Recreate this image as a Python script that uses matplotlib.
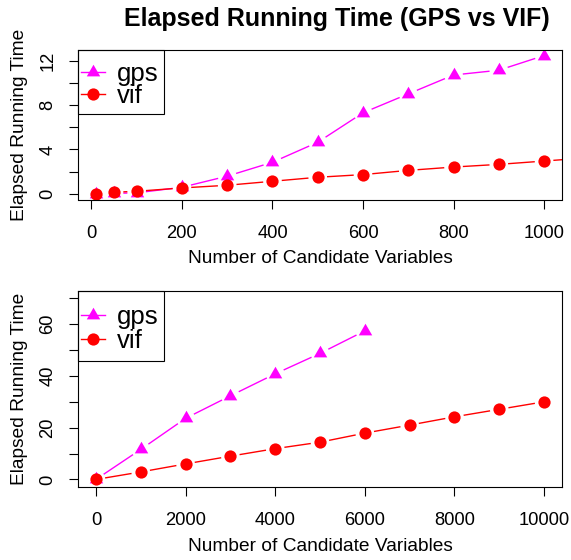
import numpy as np
import matplotlib
matplotlib.use("Agg")
import matplotlib.pyplot as plt
from matplotlib.lines import Line2D
from matplotlib.patches import Rectangle

plt.rcParams['font.family'] = ['Liberation Sans', 'DejaVu Sans']

# ---- data ----
x_small = [10, 50, 100, 200, 300, 400, 500, 600, 700, 800, 900, 1000]
gps_small = [0.02, 0.05, 0.1, 0.6, 1.6, 2.85, 4.65, 7.3, 9.0, 10.7, 11.13, 12.45]
vif_small = [0.02, 0.15, 0.24, 0.54, 0.78, 1.14, 1.5, 1.74, 2.12, 2.42, 2.66, 2.96]

x_large = [0, 1000, 2000, 3000, 4000, 5000, 6000, 7000, 8000, 9000, 10000]
gps_large = [0, 11.6, 23.6, 32.3, 40.8, 48.7, 57.4]
vif_large = [0, 2.9, 6.0, 9.0, 11.9, 14.4, 17.9, 21.0, 24.2, 27.1, 30.0]

series_names = ['gps', 'vif']
series_colors = ['#FF00FF', '#FF0000']

W, H = 571, 560
TRI = [(0, 1.555), (-1.347, -0.778), (1.347, -0.778)]  # R's pch 17 shape
MARKERS = [dict(marker=TRI, ms=11.2), dict(marker='o', ms=8.8)]


def fx(px):
    return px / W


def fy(py):
    return 1 - py / H


def gapped(ax, x, y, color, gap=10):
    # R type="b": line segments stop short of the points
    pts = ax.transData.transform(np.column_stack([x, y]))
    inv = ax.transData.inverted()
    for p0, p1 in zip(pts[:-1], pts[1:]):
        d = p1 - p0
        L = np.hypot(*d)
        if L <= 2 * gap:
            continue
        u = d / L
        a = inv.transform(p0 + u * gap)
        b = inv.transform(p1 - u * gap)
        ax.plot([a[0], b[0]], [a[1], b[1]], color=color, lw=1.0)


def panel(box, xlim, ylim, xticks, yticks, ylabels, series, xlab_base, legend):
    left, top, right, bottom = box
    ax = fig.add_axes([fx(left), fy(bottom), fx(right) - fx(left), (bottom - top) / H])
    ax.set_xlim(*xlim)
    ax.set_ylim(*ylim)
    for (x, y), c, m in zip(series, series_colors, MARKERS):
        gapped(ax, x, y, c)
        ax.plot(x, y, ls='none', color=c, mew=0, **m)
    ax.set_xticks(xticks)
    ax.set_yticks(yticks)
    ax.set_yticklabels(ylabels, rotation=90, va='center')
    ax.tick_params(length=6.5, width=0.8, labelsize=13.2, direction='out')
    ax.tick_params(axis='x', pad=12)
    ax.tick_params(axis='y', pad=9)
    for s in ax.spines.values():
        s.set_linewidth(0.8)
        s.set_color('black')
    ax.set_xlabel('Number of Candidate Variables', fontsize=13.8, va='baseline')
    ax.xaxis.set_label_coords(0.5, -(xlab_base - bottom) / (bottom - top))
    ax.set_ylabel('Elapsed Running Time', fontsize=13.8, va='baseline')
    ax.yaxis.set_label_coords((23.7 - left) / (right - left), 0.5)

    # legend box in the top-left corner, like R's legend("topleft")
    lh, r1, r2 = legend
    fig.add_artist(Rectangle((fx(left), fy(top + lh)), fx(164) - fx(left), lh / H,
                             transform=fig.transFigure, fill=False, ec='black', lw=0.8))
    for name, c, m, ry in zip(series_names, series_colors, MARKERS, [r1, r2]):
        fig.add_artist(Line2D([fx(81), fx(105)], [fy(top + ry)] * 2, color=c, lw=1.0,
                              transform=fig.transFigure))
        fig.add_artist(Line2D([fx(93)], [fy(top + ry)], color=c, mew=0,
                              transform=fig.transFigure, **m))
        fig.text(fx(117), fy(top + ry + 9), name, fontsize=18.5, va='baseline')
    return ax


fig = plt.figure(figsize=(W / 100, H / 100), dpi=100)

panel((78, 50, 562, 199.5), (-29.6, 1039.6), (-0.5, 12.95),
      range(0, 1001, 200), range(0, 13, 2), ['0', '', '4', '', '8', '', '12'],
      [(x_small, gps_small), (x_small + [2000], vif_small + [vif_large[2]])],
      263, (63.7, 21.5, 43.7))

panel((78, 291, 562, 486.7), (-400, 10400), (-2.8, 72.8),
      range(0, 10001, 2000), range(0, 71, 10), ['0', '', '20', '', '40', '', '60', ''],
      [(x_large[:len(gps_large)], gps_large), (x_large, vif_large)],
      550.7, (70, 24, 48))

fig.text(fx(337), fy(26), 'Elapsed Running Time (GPS vs VIF)', fontsize=18,
         fontweight='bold', ha='center', va='baseline')

fig.savefig('out.png', dpi=100)
